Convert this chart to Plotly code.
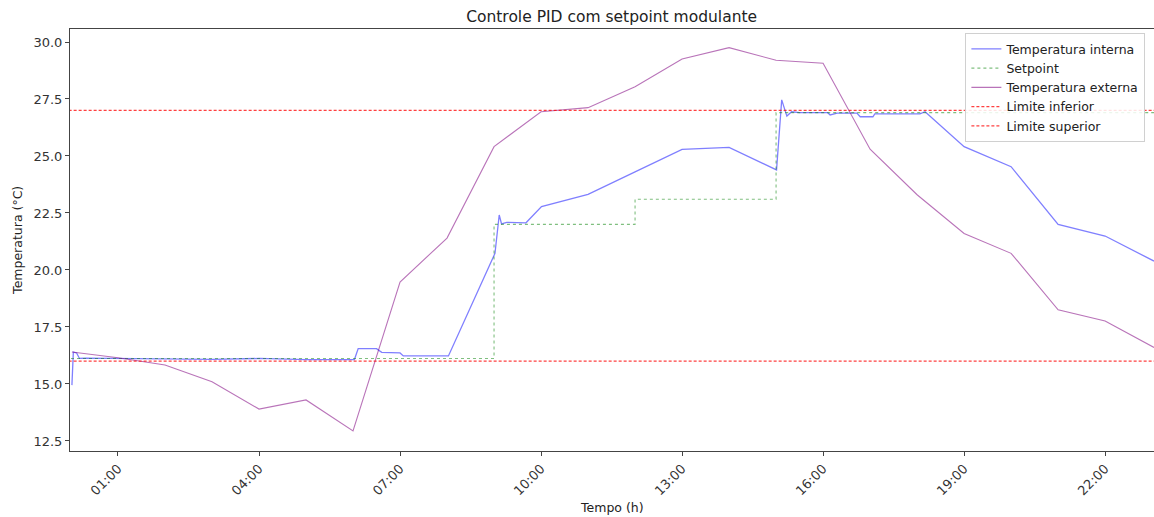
import pandas as pd
import plotly.graph_objects as go

BASE = pd.Timestamp("2023-01-01 00:00")

# ---- data (hours since midnight, °C) ----
t_interna = [0.02, 0.05, 0.12, 0.18, 0.3, 1.0, 2.0, 3.0, 4.0, 5.0, 6.03, 6.11, 6.5, 6.61,
             7.0, 7.07, 8.03, 9.02, 9.11, 9.16, 9.27, 9.68, 10.01, 11.0, 12.0, 13.0, 14.0,
             15.01, 15.12, 15.23, 15.33, 15.5, 16.1, 16.15, 16.3, 16.72, 16.79, 17.06, 17.1,
             18.06, 18.17, 19.0, 20.0, 21.0, 22.0, 23.04]
v_interna = [14.95, 16.4, 16.36, 16.12, 16.13, 16.12, 16.1, 16.08, 16.12, 16.07, 16.07, 16.55, 16.55, 16.39,
             16.36, 16.23, 16.23, 20.73, 22.41, 22.02, 22.09, 22.07, 22.78, 23.32, 24.3, 25.29, 25.38,
             24.39, 27.46, 26.75, 26.94, 26.9, 26.9, 26.8, 26.88, 26.88, 26.72, 26.72, 26.85,
             26.85, 26.94, 25.41, 24.53, 22.0, 21.49, 20.39]

t_setpoint = [0.0, 9.0, 12.0, 15.0, 23.04]
v_setpoint = [16.12, 22.0, 23.1, 26.9, 26.9]

t_externa = [0.02, 1, 2, 3, 4, 5, 6, 7, 8, 9, 10, 11, 12, 13, 14, 15, 16, 17, 18, 19, 20, 21, 22, 23.04]
v_externa = [16.4, 16.15, 15.83, 15.1, 13.9, 14.3, 12.94, 19.47, 21.4, 25.41, 26.94, 27.12, 28.04,
             29.25, 29.75, 29.2, 29.07, 25.3, 23.3, 21.6, 20.73, 18.25, 17.76, 16.6]

limite_inferior = 16.0
limite_superior = 27.0
t_limites = [-0.05, 23.1]

tick_hours = [1, 4, 7, 10, 13, 16, 19, 22]
tick_labels = ["01:00", "04:00", "07:00", "10:00", "13:00", "16:00", "19:00", "22:00"]


def to_time(hours):
    return [BASE + pd.Timedelta(hours=h) for h in hours]


FONT = "DejaVu Sans"

fig = go.Figure()
fig.add_trace(go.Scatter(x=to_time(t_interna), y=v_interna, mode="lines",
                         name="Temperatura interna",
                         line=dict(color="rgba(0,0,255,0.5)", width=1.3)))
fig.add_trace(go.Scatter(x=to_time(t_setpoint), y=v_setpoint, mode="lines",
                         name="Setpoint", line_shape="hv",
                         line=dict(color="rgba(0,128,0,0.5)", width=1.1, dash="dot")))
fig.add_trace(go.Scatter(x=to_time(t_externa), y=v_externa, mode="lines",
                         name="Temperatura externa",
                         line=dict(color="rgba(128,0,128,0.55)", width=1.1)))
fig.add_trace(go.Scatter(x=to_time(t_limites), y=[limite_inferior] * 2, mode="lines",
                         name="Limite inferior",
                         line=dict(color="rgba(255,0,0,0.75)", width=1.1, dash="3px,2px")))
fig.add_trace(go.Scatter(x=to_time(t_limites), y=[limite_superior] * 2, mode="lines",
                         name="Limite superior",
                         line=dict(color="rgba(255,0,0,0.75)", width=1.1, dash="3px,2px")))

fig.update_layout(
    width=1154, height=517,
    margin=dict(l=70, r=0, t=29, b=66, autoexpand=False),
    paper_bgcolor="white", plot_bgcolor="white",
    font=dict(family=FONT, size=12, color="#333"),
    title=dict(text="Controle PID com setpoint modulante", x=0.530, xanchor="center",
               y=0.967, yanchor="middle", font=dict(family=FONT, size=15.5, color="#222")),
    legend=dict(x=0.826, y=0.99, xanchor="left", yanchor="top",
                bgcolor="rgba(255,255,255,0.85)", bordercolor="#d0d0d0", borderwidth=1,
                font=dict(family=FONT, size=12.5, color="#222"), tracegroupgap=0,
                itemwidth=30),
    showlegend=True,
    annotations=[
        dict(text="Tempo (h)", xref="paper", yref="paper", x=0.5, y=-0.135,
             xanchor="center", yanchor="middle", showarrow=False,
             font=dict(family=FONT, size=12.5, color="#222")),
        dict(text="Temperatura (°C)", xref="paper", yref="paper", x=-0.049, y=0.5,
             xanchor="center", yanchor="middle", showarrow=False, textangle=-90,
             font=dict(family=FONT, size=12.5, color="#222")),
    ],
)

fig.update_xaxes(
    type="date", automargin=False,
    range=[BASE + pd.Timedelta(hours=-0.021), BASE + pd.Timedelta(hours=23.04)],
    tickvals=to_time(tick_hours), ticktext=tick_labels, tickangle=-45,
    ticks="outside", ticklen=4, tickcolor="#444",
    showline=True, linecolor="#444", linewidth=1, mirror=True,
    showgrid=False, zeroline=False,
    tickfont=dict(family=FONT, size=13, color="#333"),
)
fig.update_yaxes(
    automargin=False,
    range=[12.06, 30.57], tickmode="linear", tick0=12.5, dtick=2.5, tickformat=".1f",
    ticks="outside", ticklen=4, tickcolor="#444",
    showline=True, linecolor="#444", linewidth=1, mirror=True,
    showgrid=False, zeroline=False,
    tickfont=dict(family=FONT, size=13, color="#333"),
)

fig.write_html(
    "out.html",
    config={"displayModeBar": False},
    post_script="document.body.style.margin='0';document.body.style.overflow='hidden';",
)
